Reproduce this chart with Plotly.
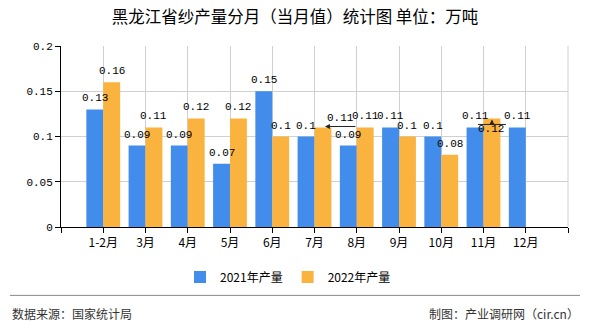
import plotly.graph_objects as go

categories = ["1-2月", "3月", "4月", "5月", "6月", "7月", "8月", "9月", "10月", "11月", "12月"]
series_2021 = [0.13, 0.09, 0.09, 0.07, 0.15, 0.1, 0.09, 0.11, 0.1, 0.11, 0.11]
series_2022 = [0.16, 0.11, 0.12, 0.12, 0.1, 0.11, 0.11, 0.1, 0.08, 0.12, None]
name_2021 = "2021年产量"
name_2022 = "2022年产量"
title_text = "黑龙江省纱产量分月（当月值）统计图 单位：万吨"
source_text = "数据来源：国家统计局"
credit_text = "制图：产业调研网（cir.cn）"

BLUE = "#428DEC"
ORANGE = "#FBB33F"
NUM_FONT = "Liberation Mono"
CJK_FONT = "Noto Sans CJK SC"

W, H = 590, 330
L, R, T, B = 61, 568, 46, 229  # plot area in pixels


def px_x(p):
    return (p - L) / (R - L)


def px_y(p):
    return (B - p) / (B - T)


idx = list(range(len(categories)))

fig = go.Figure()
fig.add_trace(go.Bar(x=idx, y=series_2021, name=name_2021, marker_color=BLUE,
                     marker_line_width=0))
fig.add_trace(go.Bar(x=idx, y=series_2022, name=name_2022, marker_color=ORANGE,
                     marker_line_width=0))

annotations = []
special = {(1, 5): dict(xshift=18, yanchor="middle", yshift=9),
           (1, 9): dict(xshift=-1, yanchor="middle", yshift=-11)}
for s, (vals, off) in enumerate([(series_2021, -0.2), (series_2022, 0.2)]):
    for i, v in enumerate(vals):
        if v is None:
            continue
        kw = dict(yanchor="bottom", yshift=3, xshift=0)
        kw.update(special.get((s, i), {}))
        annotations.append(dict(x=i + off, y=v, xref="x", yref="y", text=f"{v:g}",
                                showarrow=False, font=dict(family=NUM_FONT, size=11, color="#000"),
                                xanchor="center", **kw))

# leader arrows for displaced labels
annotations.append(dict(x=5 + 0.2, y=series_2022[5], xref="x", yref="y", text="",
                        showarrow=True, arrowhead=2, arrowsize=1, arrowwidth=1,
                        arrowcolor="#222", ax=32, ay=0, xshift=2, yshift=1))
annotations.append(dict(x=9 + 0.2, y=series_2022[9], xref="x", yref="y", text="",
                        showarrow=True, arrowhead=2, arrowsize=1, arrowwidth=1,
                        arrowcolor="#222", ax=0, ay=6, yshift=-1))

annotations.append(dict(x=px_x(10), y=px_y(316), xref="paper", yref="paper", text=source_text,
                        showarrow=False, xanchor="left", yanchor="middle",
                        font=dict(family=CJK_FONT, size=12, color="#333")))
annotations.append(dict(x=px_x(581), y=px_y(316), xref="paper", yref="paper", text=credit_text,
                        showarrow=False, xanchor="right", yanchor="middle",
                        font=dict(family=CJK_FONT, size=12, color="#333")))

shapes = [
    dict(type="line", xref="paper", yref="paper", x0=px_x(10), x1=px_x(580),
         y0=px_y(298), y1=px_y(298), line=dict(color="#888", width=1)),
    dict(type="line", xref="x", yref="y", xsizemode="pixel", ysizemode="pixel",
         xanchor=9 + 0.2, yanchor=series_2022[9], x0=-14, x1=14, y0=-6, y1=-6,
         line=dict(color="#222", width=1)),
    dict(type="line", xref="paper", yref="paper", x0=1, x1=1, y0=0, y1=1,
         line=dict(color="#d0d0d0", width=1), layer="below"),
]

fig.update_layout(
    width=W, height=H,
    margin=dict(l=L, r=W - R, t=T, b=H - B, pad=0),
    paper_bgcolor="white", plot_bgcolor="white",
    barmode="group", bargap=0.2, bargroupgap=0,
    title=dict(text=title_text, x=0.5, xref="container", xanchor="center",
               y=1 - 17 / H, yref="container", yanchor="middle",
               font=dict(family=CJK_FONT, size=16.5, color="#000")),
    legend=dict(orientation="h", x=0.5 - 7 / W, xref="container", xanchor="center",
                y=1 - 277 / H, yref="container", yanchor="middle",
                font=dict(family=CJK_FONT, size=12, color="#000"),
                traceorder="normal", itemclick=False),
    annotations=annotations,
    shapes=shapes,
    showlegend=True,
)

fig.update_xaxes(range=[-1, len(categories)], tickmode="array",
                 tickvals=[-1] + idx + [len(categories)],
                 ticktext=[""] + categories + [""],
                 showgrid=True, gridcolor="#d0d0d0", gridwidth=1,
                 showline=True, linecolor="#000", linewidth=1,
                 ticks="outside", ticklen=5, tickcolor="#000",
                 tickfont=dict(family=CJK_FONT, size=12, color="#000"),
                 zeroline=False, fixedrange=True)
fig.update_yaxes(range=[0, 0.2], tickmode="array", tickvals=[0, 0.05, 0.1, 0.15, 0.2],
                 ticktext=["0", "0.05", "0.1", "0.15", "0.2"],
                 showgrid=True, gridcolor="#d0d0d0", gridwidth=1,
                 showline=True, linecolor="#000", linewidth=1,
                 ticks="outside", ticklen=5, tickcolor="#000",
                 tickfont=dict(family=NUM_FONT, size=11, color="#000"),
                 zeroline=False, fixedrange=True)

fig.write_html("out.html")
